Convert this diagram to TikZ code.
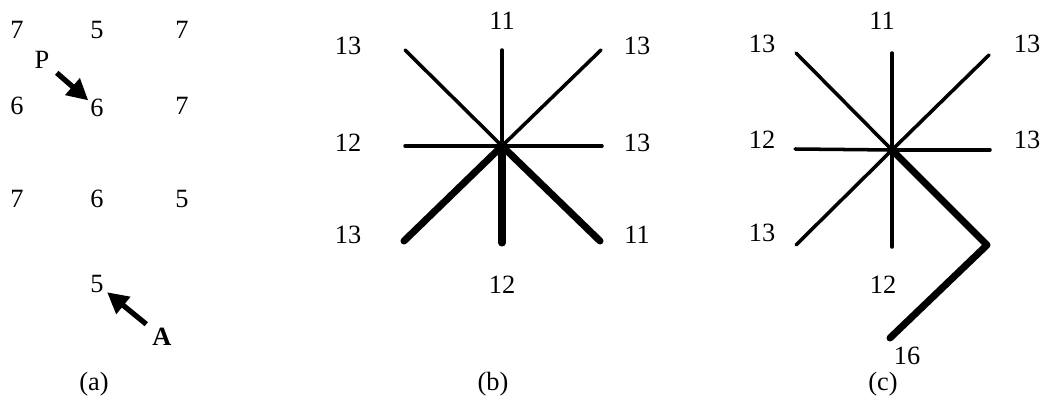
\documentclass[tikz,border=0pt]{standalone}
\usepackage{fontspec}
\setmainfont{Liberation Serif}
\usetikzlibrary{arrows.meta, positioning}

\tikzset{
  num/.style={font=\fontsize{15}{18}\selectfont, inner sep=1pt},
  ray/.style={line width=2pt, line cap=round},
  boldray/.style={line width=4pt, line cap=round, line join=round},
  pointer/.style={line width=3pt, -{Triangle[length=12pt, width=12pt]}},
}

\begin{document}
\begin{tikzpicture}[x=0.02cm, y=-0.02cm]

        \useasboundingbox (0,0) rectangle (1043,411);

        % Panel (a): grid of values
        \node[num] (a1) at (17,30) {7};
        \node[num] (a2) at (97,30) {5};
        \node[num] (a3) at (182,30) {7};
        \node[num] (a4) at (17,106) {6};
        \node[num] (a5) at (97,108) {6};
        \node[num] (a6) at (182,106) {7};
        \node[num] (a7) at (17,199) {7};
        \node[num] (a8) at (97,199) {6};
        \node[num] (a9) at (182,199) {5};
        \node[num] (a10) at (97,284) {5};

        % Pointers P and A
        \node[num] (P) at (42,60) {P};
        \node[num, font=\fontsize{15}{18}\selectfont\bfseries] (A) at (162,337) {A};
        \draw[pointer, shorten <=4pt, shorten >=0pt] (P) -- (a5);
        \draw[pointer, shorten <=3pt, shorten >=1pt] (A) -- (a10);

        % Panel (b): star of directions
        \coordinate (bC) at (502,146);
        \coordinate (bN) at (502,50);
        \coordinate (bS) at (502,243);
        \coordinate (bW) at (405,146);
        \coordinate (bE) at (602,146);
        \coordinate (bNW) at (405,50);
        \coordinate (bNE) at (601,50);
        \coordinate (bSW) at (404,241);
        \coordinate (bSE) at (600,241);
        \foreach \d in {N,W,E,NW,NE}
            \draw[ray] (bC) -- (b\d);
        \foreach \d in {S,SW,SE}
            \draw[boldray] (bC) -- (b\d);
        \fill (bC) circle (3pt);

        \node[num] (bl1) at (502,21) {11};
        \node[num] (bl2) at (348,46) {13};
        \node[num] (bl3) at (637,46) {13};
        \node[num] (bl4) at (348,143) {12};
        \node[num] (bl5) at (637,143) {13};
        \node[num] (bl6) at (348,235) {13};
        \node[num] (bl7) at (637,235) {11};
        \node[num] (bl8) at (502,285) {12};

        % Panel (c): star with the chosen path
        \coordinate (cC) at (892,150);
        \coordinate (cN) at (892,53);
        \coordinate (cS) at (892,247);
        \coordinate (cW) at (795,149);
        \coordinate (cE) at (990,150);
        \coordinate (cNW) at (796,53);
        \coordinate (cNE) at (989,55);
        \coordinate (cSW) at (796,245);
        \coordinate (cSE) at (987,245);
        \coordinate (cEnd) at (890,338);
        \foreach \d in {N,S,W,E,NW,NE,SW}
            \draw[ray] (cC) -- (c\d);
        \draw[boldray] (cC) -- (cSE) -- (cEnd);
        \fill (cC) circle (3pt);

        \node[num] (cl1) at (882,21) {11};
        \node[num] (cl2) at (762,44) {13};
        \node[num] (cl3) at (1027,44) {13};
        \node[num] (cl4) at (762,140) {12};
        \node[num] (cl5) at (1027,140) {13};
        \node[num] (cl6) at (762,233) {13};
        \node[num] (cl7) at (883,285) {12};
        \node[num] (cl8) at (907,356) {16};

        % Captions
        \node[num] (capa) at (94,384) {(a)};
        \node[num] (capb) at (493,384) {(b)};
        \node[num] (capc) at (883,384) {(c)};

\end{tikzpicture}
\end{document}
